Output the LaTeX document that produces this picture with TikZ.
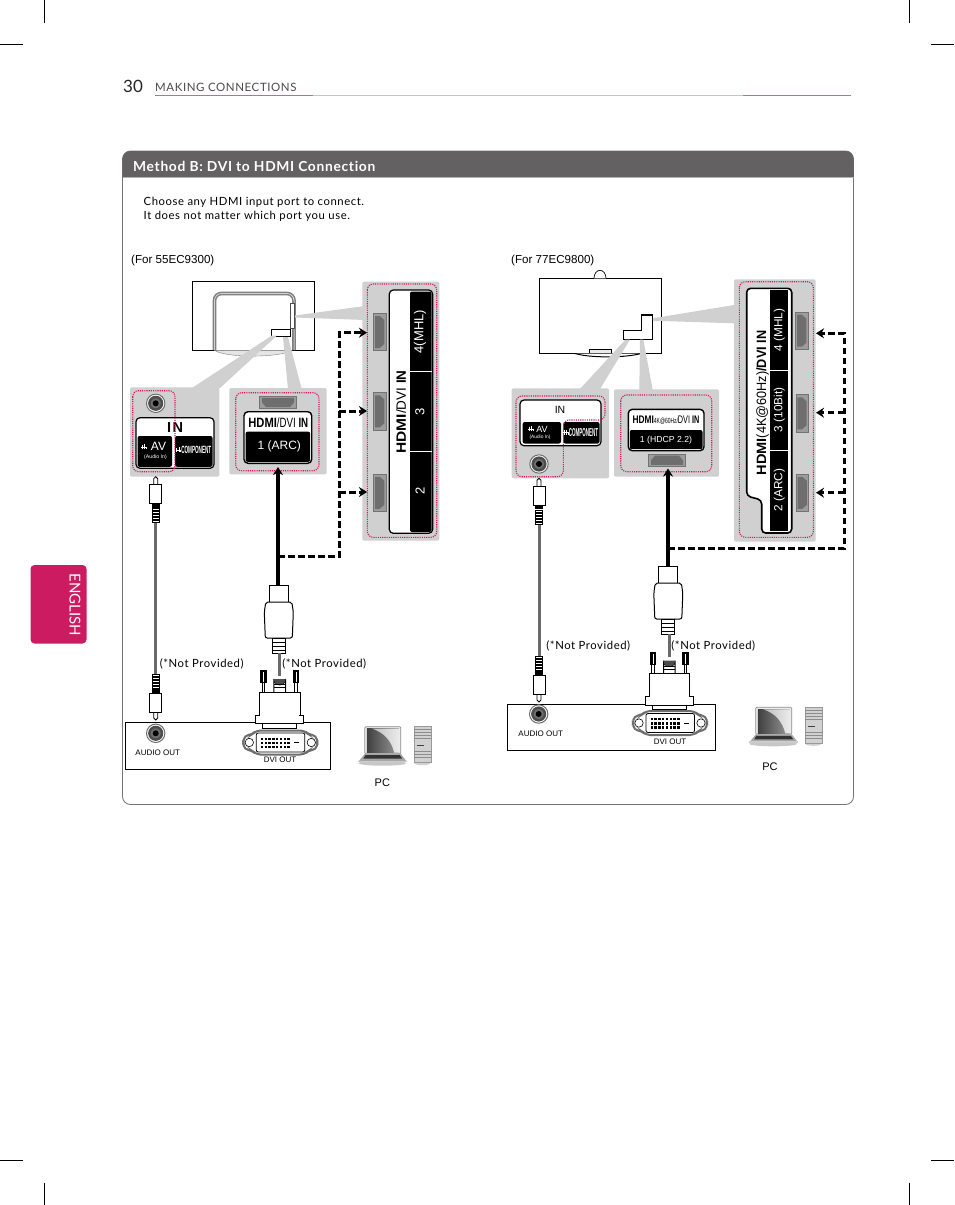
\documentclass[tikz,border=0pt]{standalone}
\usepackage{fontspec}
\setmainfont{Liberation Sans}
\newfontfamily\lgfont[LetterSpace=5,Ligatures=NoCommon]{Lato}
\newfontfamily\tabfont[Ligatures=NoCommon]{Lato}
\usetikzlibrary{arrows.meta}

\definecolor{lgpink}{HTML}{CC1B60}
\definecolor{lgdot}{HTML}{D9145F}
\definecolor{panelgray}{HTML}{D0D0D0}
\definecolor{headgray}{HTML}{636161}
\definecolor{portgray}{HTML}{6E6E6E}
\definecolor{cablegray}{HTML}{6A6A6A}

\newcommand{\fs}[1]{\fontsize{#1}{#1}\selectfont}
\newcommand{\hdmilogo}[1]{\textbf{\scalebox{1.15}[1]{HDMI}}#1}

\tikzset{
	crop/.style={black,line width=0.7pt},
	panel/.style={fill=panelgray,rounded corners=2pt},
	wedge/.style={fill=panelgray},
	pinkdot/.style={draw=lgdot,line width=1.1pt,dash pattern=on 1.1pt off 1.1pt,rounded corners=6pt},
	tvline/.style={draw=black,line width=0.8pt,fill=white},
	lblbox/.style={draw=black,line width=1.2pt,fill=white,rounded corners=4pt},
	blackpart/.style={fill=black,rounded corners=2pt},
	small/.style={inner sep=0pt,font=\fs{8.5}},
	lgtext/.style={inner sep=0pt,font=\lgfont\fs{11.3},anchor=west},
	dashcable/.style={-{Stealth[length=8pt,width=10pt]},line width=3pt,dash pattern=on 6.5pt off 3.5pt,black},
	hdmicable/.style={-{Stealth[length=8pt,width=10pt]},line width=3.5pt,black},
	audiocable/.style={line width=3pt,cablegray},
	plugline/.style={draw=black,line width=1pt,fill=white},
	% ---- jack of the audio cable, tip at the origin
	pics/jackplug/.style={code={
		\draw[plugline,line width=0.8pt] (-2,8) -- (-2,2) -- (0,0) -- (2,2) -- (2,8);
		\draw[plugline] (-6,8) rectangle (6,27);
		\fill[black] (-3.8,27) rectangle (3.8,31);
		\foreach \ribb in {32,35,38,41,44}
			\draw[plugline,line width=0.7pt] (-3.6,\ribb) rectangle (3.6,\ribb+2);
	}},
	% ---- plug of the hdmi cable, neck top at the origin
	pics/hdmiplug/.style={code={
		\draw[plugline] (-9.5,17) -- (-9.5,0) -- (9.5,0) -- (9.5,17);
		\draw[plugline,rounded corners=2pt] (-13,17) -- (13,17) -- (14.5,27) -- (13.5,53) -- (-13.5,53) -- (-14.5,27) -- cycle;
		\draw[plugline] (-6.5,53) rectangle (6.5,68);
		\foreach \ribb in {57,61,65}
			\draw[black,line width=1pt] (-6.5,\ribb) -- (6.5,\ribb);
	}},
	% ---- dvi plug, top of the dome at the origin
	pics/dviplug/.style={code={
		\foreach \sgn in {-1,1} {
			\draw[plugline,line width=0.8pt] (\sgn*17.5,4) rectangle (\sgn*15,17);
			\fill[black] (\sgn*19.7,-5) rectangle (\sgn*13,8);
			\fill[white] (\sgn*16.8,-3) rectangle (\sgn*15.8,7);
		}
		\draw[plugline] (-5.8,17) -- (-5.8,4) arc (180:0:5.8) -- (5.8,17);
		\fill[black!70] (-5.8,4) arc (180:0:5.8) -- cycle;
		\fill[black] (-5.8,9) rectangle (5.8,10.2);
		\fill[black] (-5.8,12) rectangle (5.8,13.2);
		\draw[plugline] (-17,48) rectangle (17,53);
		\draw[plugline] (-20.3,41) -- (-20.3,17) -- (20.3,17) -- (20.3,41);
		\draw[plugline] (-23.8,48.3) -- (-23.8,40) -- (23.8,40) -- (23.8,48.3) -- cycle;
		\fill[white] (-19.6,38) rectangle (19.6,41.5);
	}},
	% ---- dvi socket on the out box
	pics/dviout/.style={code={
		\draw[draw=portgray,line width=2pt,fill=white,rounded corners=4pt] (-24,-12) -- (24,-12) -- (28,-8) -- (36,-7) -- (37,0) -- (36,7) -- (28,8) -- (24,12) -- (-24,12) -- (-28,8) -- (-36,7) -- (-37,0) -- (-36,-7) -- (-28,-8) -- cycle;
		\draw[black,line width=0.6pt] (-31,0) circle (4.2) (31,0) circle (4.2);
		\draw[black,line width=0.8pt,rounded corners=2pt,fill=white] (-24,-9.5) rectangle (24.5,9.5);
		\foreach \colm in {0,...,7}
			\foreach \rowm in {0,1,2}
				\fill[black] (-19.5+\colm*3.8,-5+\rowm*4.2) rectangle +(2.4,2.4);
		\fill[black] (13.5,-0.3) rectangle (19,0.9);
	}},
	pics/audiojack/.style={code={
		\draw[portgray,line width=1pt,fill=white] (0,0) circle (9.2);
		\draw[portgray!70!black,line width=2.5pt,fill=portgray] (0,0) circle (6.3);
		\fill[black] (0,0) circle (3);
	}},
	% ---- laptop and tower
	pics/pcset/.style={code={
		\fill[black!22] (24,36.5) ellipse (24 and 2.5);
		\fill[black!18] (64,36.5) ellipse (8 and 2);
		\draw[black!45,line width=0.7pt,fill=black!8,rounded corners=1pt] (6.5,0) rectangle (42.5,27);
		\shade[left color=black!75,right color=black!40] (8.5,2) rectangle (40.5,26);
		\shade[left color=black!25,right color=black!8] (14,2) .. controls (26,6) and (33,14) .. (36,26) -- (40.5,26) -- (40.5,2) -- cycle;
		\fill[black!35] (6.5,27) -- (42.5,27) -- (48.5,35) -- (0,35) -- cycle;
		\fill[black!80] (7,28.5) -- (41.5,28.5) -- (44,32) -- (5,32) -- cycle;
		\fill[black!20] (0,34) rectangle (48.5,35.5);
		\fill[black!18] (56,-0.5) rectangle (72.5,36);
		\draw[black!40,line width=0.5pt] (56,-0.5) rectangle (72.5,36);
		\foreach \slt in {3,6,9,12,25,28,31}
			\draw[black!45,line width=0.5pt] (56,\slt) -- (72.5,\slt);
		\draw[black!75,line width=0.8pt] (59,19) -- (66,19);
	}},
	% ---- socket, seen from the front, thin side down
	pics/hdmiport/.style={code={
		\fill[panelgray!75!black] (-18.7,-6.2) rectangle (18.7,6.2);
		\draw[black!55,line width=0.5pt] (-18.7,-6.2) rectangle (18.7,6.2);
		\fill[portgray] (-16,-4.6) -- (16,-4.6) -- (16,0) -- (12,4.6) -- (-12,4.6) -- (-16,0) -- cycle;
	}},
	pics/jackicon/.style={code={
		\draw[#1,line width=0.5pt] (-1.8,-2.4) -- (-1.8,2.4) (-3,0) -- (2.2,0) (0.5,-2.6) -- (0.5,2.4) (2.2,0) -- (2.2,2.4);
	}},
}

\begin{document}
\begin{tikzpicture}[x=1pt,y=-1pt,>=Stealth]
	\useasboundingbox (0,0) rectangle (954,1205);
	\fill[white] (0,0) rectangle (954,1205);

	% crop marks
	\draw[crop] (44.5,0) -- (44.5,22.5);
	\draw[crop] (0,44) -- (23,44);
	\draw[crop] (909.5,0) -- (909.5,22.5);
	\draw[crop] (931,44) -- (954,44);
	\draw[crop] (44.5,1182.5) -- (44.5,1205);
	\draw[crop] (0,1160.5) -- (23,1160.5);
	\draw[crop] (909.5,1182.5) -- (909.5,1205);
	\draw[crop] (931,1160.5) -- (954,1160.5);

	% page head
	\node[inner sep=0pt,font=\tabfont\fs{17},text=black!85] (pagenum) at (133,86) {30};
	\node[inner sep=0pt,anchor=west,font=\lgfont\fs{11.5},text=black!70] (pagehead) at (155,87.3) {MAKING CONNECTIONS};
	\draw[lgpink!35!white,line width=0.8pt] (155,95.5) -- (851,95.5);
	\draw[lgpink!70!white,line width=0.8pt] (155,95.5) -- (313,95.5);
	\draw[lgpink!70!white,line width=0.8pt] (743,95.5) -- (851,95.5);

	% tab
	\fill[lgpink,rounded corners=4pt] (30.5,565) rectangle (86.5,643.5);
	\node[rotate=-90,inner sep=0pt,text=white,font=\tabfont\fs{15}] (tabtext) at (75,605) {ENGLISH};

	% frame
	\draw[draw=black!55,line width=0.8pt,rounded corners=8pt] (122.5,151) rectangle (853.5,804.5);
	\fill[headgray,rounded corners=8pt] (122.5,177) -- (122.5,151) -- (853.5,151) -- (853.5,177) [sharp corners] -- cycle;
	\fill[headgray] (122.5,170) rectangle (853.5,177);
	\draw[black!30,line width=0.8pt] (122.5,177.4) -- (853.5,177.4);
	\node[inner sep=0pt,anchor=west,text=white,font=\lgfont\bfseries\fs{13.8}] (methodhead) at (133,166.3) {Method B: DVI to HDMI Connection};
	\node[lgtext] (notea) at (143.5,202.3) {Choose any HDMI input port to connect.};
	\node[lgtext] (noteb) at (143.5,216.3) {It does not matter which port you use.};
	\node[small,anchor=west,font=\fs{11.6}] (forl) at (131,260.8) {(For 55EC9300)};
	\node[small,anchor=west,font=\fs{11.6}] (forr) at (511,260.8) {(For 77EC9800)};

	%%%% left set
	\draw[tvline] (192.3,281.5) rectangle (314.3,350.3);
	\draw[draw=black!50,line width=0.4pt,fill=black!10] (214.5,350.3) .. controls (225,358) and (280,358) .. (292,350.3);
	\draw[draw=black!50,line width=1.6pt,double=white,double distance=0.5pt,rounded corners=7pt] (214.5,350) -- (214.5,293.5) -- (294,293.5) -- (294,350);
	\draw[black!70,line width=0.6pt,fill=white] (290,303) rectangle (294,328);
	\draw[black,line width=0.6pt,fill=white] (271.7,329.3) rectangle (290.7,336.7);

	\fill[wedge] (192,388) -- (272,335.5) -- (277,335.5) -- (220,388) -- cycle;
	\fill[wedge] (288,389) -- (283,337) -- (288,337) -- (301.7,389) -- cycle;
	\fill[wedge] (295,315.5) -- (365,306) -- (365,320) -- (295,317.5) -- cycle;
	\fill[panel] (130,387.3) rectangle (219.3,476.7);
	\fill[panel] (229.3,388) rectangle (326.7,474.3);
	\fill[panel] (362.3,281.7) rectangle (439.3,540.7);

	% audio in
	\pic at (155.7,403.3) {audiojack};
	\draw[lblbox] (136,417.7) rectangle (214,468.3);
	\fill[blackpart] (137.5,436) rectangle (172,466.8);
	\fill[blackpart] (175,436) rectangle (212.5,466.8);
	\node[inner sep=0pt,font=\bfseries\fs{14.5}] (inl) at (175,428) {I\kern1.5pt N};
	\pic at (144,447) {jackicon=white};
	\node[inner sep=0pt,text=white,font=\fs{12}] (avl) at (158.5,446.5) {AV};
	\node[inner sep=0pt,text=white,font=\fs{5.2}] (audioinl) at (155.5,456.7) {(Audio In)};
	\pic at (178.5,450) {jackicon=white};
	\node[inner sep=0pt,text=white,font=\bfseries\fs{10.5}] (compl) at (196.3,450) {\scalebox{0.44}[1]{COMPONENT}};
	\draw[pinkdot] (132.7,390.7) rectangle (175,471.7);

	% hdmi 1
	\pic at (278,402.5) {hdmiport};
	\draw[lblbox,line width=1.4pt] (244,411.7) rectangle (311.7,463.3);
	\fill[blackpart] (245.5,431.7) rectangle (310.2,461.8);
	\node[inner sep=0pt,font=\fs{13.5}] (labl) at (278.3,422.3) {\scalebox{0.72}[1]{\hdmilogo{/DVI \textbf{IN}}}};
	\node[inner sep=0pt,text=white,font=\fs{12}] (arcl) at (279.3,446.7) {1 (ARC)};
	\draw[pinkdot] (235.7,392.7) rectangle (319,470.7);

	% hdmi 2 3 4
	\draw[lblbox] (389.3,290) rectangle (432.7,533.3);
	\fill[blackpart] (410,291.5) rectangle (431.5,532);
	\draw[white,line width=0.7pt] (410,371.7) -- (431.5,371.7);
	\draw[white,line width=0.7pt] (410,451.7) -- (431.5,451.7);
	\node[rotate=90,inner sep=0pt,text=white,font=\fs{13}] (mhll) at (420,331.7) {4(MHL)};
	\node[rotate=90,inner sep=0pt,text=white,font=\fs{13}] (threel) at (420,411.7) {3};
	\node[rotate=90,inner sep=0pt,text=white,font=\fs{13}] (twol) at (420,491) {2};
	\node[rotate=90,inner sep=0pt,font=\fs{13.5}] (sidel) at (401,412) {\hdmilogo{/DVI \textbf{IN}}};
	\pic[rotate=90] at (379.7,332) {hdmiport};
	\pic[rotate=90] at (379.7,411.3) {hdmiport};
	\pic[rotate=90] at (379.7,492.8) {hdmiport};
	\draw[pinkdot] (367.3,284) rectangle (436.7,537.3);

	% cables
	\coordinate (plugl) at (278,585);
	\coordinate (arcinl) at (278,467);
	\coordinate (forkl) at (278,556.7);
	\coordinate (cornl) at (339,556.7);
	\coordinate (branchfourl) at (339,332.7);
	\coordinate (branchthreel) at (339,411);
	\coordinate (branchtwol) at (339,492);
	\coordinate (fourl) at (367,332.7);
	\coordinate (threeinl) at (367,411);
	\coordinate (twoinl) at (367,492);
	\draw[hdmicable] (plugl) -- (arcinl);
	\draw[dashcable] (forkl) -- (cornl) -- (branchfourl) -- (fourl);
	\draw[dashcable] (branchthreel) -- (threeinl);
	\draw[dashcable] (branchtwol) -- (twoinl);

	\coordinate (plugtopl) at (155.7,522);
	\coordinate (plugbotl) at (155.7,675);
	\draw[audiocable] (plugtopl) -- (plugbotl);
	\pic at (155.7,476.7) {jackplug};
	\pic[yscale=-1] at (155.7,720) {jackplug};

	\coordinate (hdmiendl) at (279.3,653);
	\coordinate (dvitopl) at (279.3,676);
	\pic at (278.8,585) {hdmiplug};
	\draw[audiocable] (hdmiendl) -- (dvitopl);

	\draw[black,line width=1pt] (125,722.7) rectangle (330.7,769);
	\pic at (155.7,733.3) {audiojack};
	\pic at (280.3,742.5) {dviout};
	\pic at (279.7,675) {dviplug};
	\node[inner sep=0pt,font=\fs{8}] (audiooutl) at (157.7,752.3) {AUDIO OUT};
	\node[inner sep=0pt,font=\fs{8}] (dvioutl) at (280,760) {DVI OUT};
	\node[lgtext,anchor=center] (npal) at (201.7,664) {(*Not Provided)};
	\node[lgtext,anchor=center] (npbl) at (324.3,663.5) {(*Not Provided)};
	\pic at (358.3,726.7) {pcset};
	\node[inner sep=0pt,font=\fs{11}] (pcl) at (382.3,782.3) {PC};

	%%%% right set
	\draw[tvline] (539.3,278.3) rectangle (661.7,353.3);
	\draw[black,line width=0.7pt,fill=white] (594,278.3) arc (180:360:6 and 8);
	\draw[black,line width=0.7pt,fill=black!8] (589.3,353.3) -- (589.3,349) -- (611.7,349) -- (611.7,353.3);
	\draw[black,line width=1pt,fill=white] (575,353.5) .. controls (590,358) and (625,358) .. (641,353.5);
	\draw[black,line width=1.1pt,fill=white] (641.7,315) -- (652.3,315) -- (652.3,339.3) -- (623.3,339.3) -- (623.3,330.7) -- (641.7,330.7) -- cycle;

	\fill[wedge] (580,389) -- (625.5,339.5) -- (630,339.5) -- (600,389) -- cycle;
	\fill[wedge] (639.3,390) -- (640,339.5) -- (643.3,339.5) -- (652.7,390) -- cycle;
	\fill[wedge] (652.8,318.3) -- (734,305) -- (734,323.3) -- (652.8,320.7) -- cycle;
	\fill[panel] (511.7,388.3) rectangle (609,478.3);
	\fill[panel] (614,389.3) rectangle (719,476.7);
	\fill[panel] (734,279.3) rectangle (815.7,541.7);

	% audio in
	\draw[lblbox] (520,400) rectangle (601,445.7);
	\fill[blackpart] (522.7,422) rectangle (561,443.5);
	\fill[blackpart] (563.3,422) rectangle (599.5,443.5);
	\node[inner sep=0pt,font=\fs{10.5}] (inr) at (560,410.3) {IN};
	\pic at (531,429) {jackicon=white};
	\node[inner sep=0pt,text=white,font=\fs{9}] (avr) at (542,429) {AV};
	\node[inner sep=0pt,text=white,font=\fs{4.8}] (audioinr) at (540,437.7) {(Audio In)};
	\pic at (566,432.3) {jackicon=white};
	\node[inner sep=0pt,text=white,font=\bfseries\fs{11.5}] (compr) at (583.5,432.3) {\scalebox{0.39}[1]{COMPONENT}};
	\pic at (539,464) {audiojack};
	\draw[pinkdot] (516,396) -- (605,396) -- (605,420) -- (563.3,420) -- (563.3,476.7) -- (516,476.7) -- cycle;

	% hdmi 1
	\draw[lblbox,line width=1.4pt] (628.3,409.3) rectangle (704,450.7);
	\fill[blackpart] (629.8,430) rectangle (702.5,449.2);
	\node[inner sep=0pt,font=\fs{11}] (labr) at (666,420.7) {\scalebox{0.66}[1]{\hdmilogo{\fs{7.5}4K@60Hz/\fs{11}DVI \textbf{IN}}}};
	\node[inner sep=0pt,text=white,font=\fs{8.7}] (hdcpr) at (666,440) {1 (HDCP 2.2)};
	\pic[rotate=180] at (667,460.3) {hdmiport};
	\draw[pinkdot] (620.7,395) rectangle (711.7,471.7);

	% hdmi 2 3 4
	\draw[draw=black,line width=1.6pt,fill=white,rounded corners=4pt] (746.7,288.3) -- (791.7,288.3) -- (791.7,533) -- (761.7,533) -- (761.7,500) -- (746.7,496) -- cycle;
	\fill[black] (770,290) rectangle (788.3,531);
	\draw[white,line width=0.7pt] (770,370) -- (788.3,370);
	\draw[white,line width=0.7pt] (770,450) -- (788.3,450);
	\node[rotate=90,inner sep=0pt,text=white,font=\fs{11.8}] (mhlr) at (779.3,330) {4 (MHL)};
	\node[rotate=90,inner sep=0pt,text=white,font=\fs{11.8}] (threer) at (779.3,410) {3 (10Bit)};
	\node[rotate=90,inner sep=0pt,text=white,font=\fs{11.8}] (twor) at (779.3,490) {2 (ARC)};
	\node[rotate=90,inner sep=0pt,font=\fs{13.5}] (sider) at (762.5,403) {\scalebox{0.94}[1]{\hdmilogo{(4K@60Hz)\textbf{/DVI IN}}}};
	\pic[rotate=90] at (801.8,330.7) {hdmiport};
	\pic[rotate=90] at (802,413.3) {hdmiport};
	\pic[rotate=90] at (802.3,492.8) {hdmiport};
	\draw[pinkdot] (739.3,281.7) rectangle (813.3,537.3);

	% cables
	\coordinate (plugr) at (668,566);
	\coordinate (hdcpinr) at (668,468.5);
	\coordinate (forkr) at (668,548);
	\coordinate (cornr) at (844,548);
	\coordinate (branchfourr) at (844,333.3);
	\coordinate (branchthreer) at (844,412.7);
	\coordinate (branchtwor) at (844,492.7);
	\coordinate (fourr) at (816,333.3);
	\coordinate (threeinr) at (816,412.7);
	\coordinate (twoinr) at (816,492.7);
	\draw[hdmicable] (plugr) -- (hdcpinr);
	\draw[dashcable] (forkr) -- (cornr) -- (branchfourr) -- (fourr);
	\draw[dashcable] (branchthreer) -- (threeinr);
	\draw[dashcable] (branchtwor) -- (twoinr);

	\coordinate (plugtopr) at (539,524);
	\coordinate (plugbotr) at (539,657);
	\draw[audiocable] (plugtopr) -- (plugbotr);
	\pic at (539,478.3) {jackplug};
	\pic[yscale=-1] at (539,702) {jackplug};

	\coordinate (hdmiendr) at (669.3,634);
	\coordinate (dvitopr) at (669.3,657);
	\pic at (668.3,566) {hdmiplug};
	\draw[audiocable] (hdmiendr) -- (dvitopr);

	\draw[black,line width=1pt] (507.7,704) rectangle (715.3,750.7);
	\pic at (538.7,714) {audiojack};
	\pic at (670,723) {dviout};
	\pic at (669.3,656.7) {dviplug};
	\node[inner sep=0pt,font=\fs{8}] (audiooutr) at (540.7,733.3) {AUDIO OUT};
	\node[inner sep=0pt,font=\fs{8}] (dvioutr) at (670,741.7) {DVI OUT};
	\node[lgtext,anchor=center] (npar) at (588.3,646) {(*Not Provided)};
	\node[lgtext,anchor=center] (npbr) at (713.3,646) {(*Not Provided)};
	\pic at (749.3,707.3) {pcset};
	\node[inner sep=0pt,font=\fs{11}] (pcr) at (770,767) {PC};
\end{tikzpicture}
\end{document}
